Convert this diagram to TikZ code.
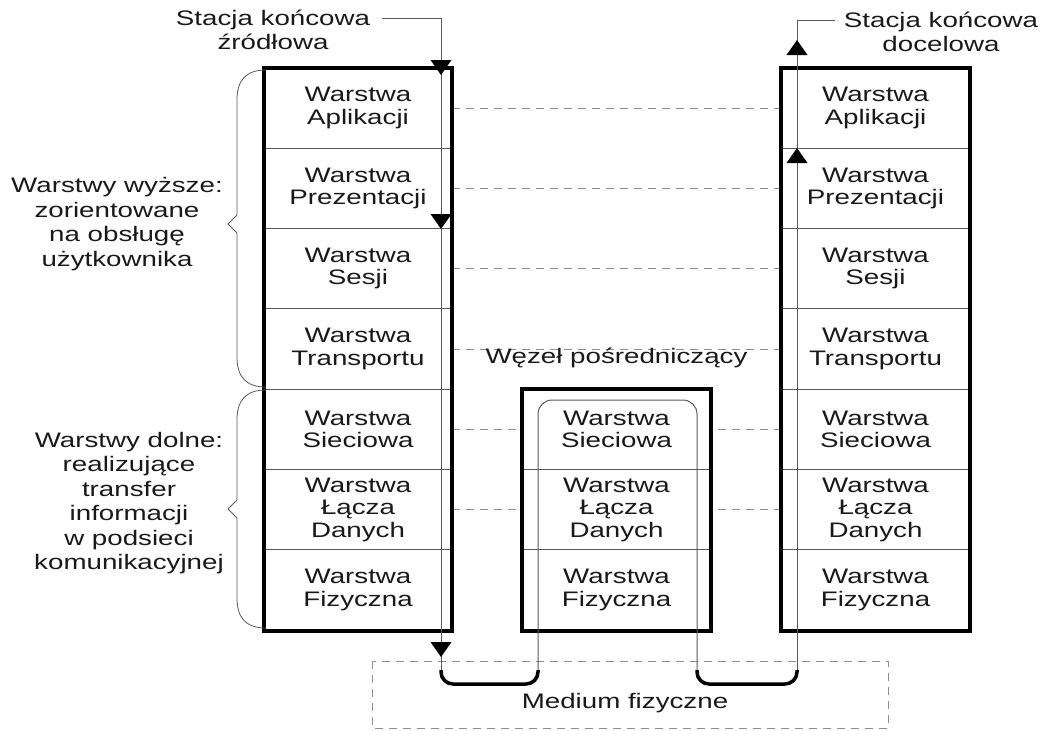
\documentclass[tikz,border=0pt]{standalone}
\usepackage{fontspec}
\setmainfont{Liberation Sans}[FakeStretch=1.32]
\usetikzlibrary{arrows.meta}
\definecolor{thinc}{gray}{0.35}
\definecolor{dashc}{gray}{0.55}
\definecolor{txt}{gray}{0.1}
\newcommand\mydowntri[1]{\fill[black] (#1) -- ++(-10.5,-15) -- ++(21,0) -- cycle;}
\newcommand\myuptri[1]{\fill[black] (#1) -- ++(-10.5,15) -- ++(21,0) -- cycle;}
\begin{document}
\begin{tikzpicture}[x=1pt,y=-1pt,
  layer/.style={draw=thinc, line width=0.9pt, fill=white, minimum width=188pt, minimum height=80.29pt,
    inner sep=0pt, align=center, text=txt, font=\fontsize{21}{22.5}\selectfont},
  frame/.style={draw=black, line width=4pt},
  sig/.style={draw=thinc, line width=1pt},
  peer/.style={draw=dashc, line width=1pt, dash pattern=on 8pt off 6pt},
  medium/.style={draw=dashc, line width=1pt, dash pattern=on 8pt off 6pt},
  cable/.style={draw=black, line width=3.5pt, rounded corners=12pt},
  bracec/.style={draw=thinc, line width=0.8pt},
  lbl/.style={align=center, text=txt, font=\fontsize{21}{24.5}\selectfont, inner sep=0pt}]
\useasboundingbox (0,0) rectangle (1061,731);

% left station
\node[layer] (la) at (358,108.1) {Warstwa\\Aplikacji};
\node[layer] (lp) at (358,188.4) {Warstwa\\Prezentacji};
\node[layer] (ls) at (358,268.7) {Warstwa\\Sesji};
\node[layer] (lt) at (358,349.0) {Warstwa\\Transportu};
\node[layer] (ln) at (358,429.3) {Warstwa\\Sieciowa};
\node[layer] (ld) at (358,509.6) {Warstwa\\Łącza\\Danych};
\node[layer] (lf) at (358,589.9) {Warstwa\\Fizyczna};
% right station
\node[layer] (ra) at (875.5,108.1) {Warstwa\\Aplikacji};
\node[layer] (rp) at (875.5,188.4) {Warstwa\\Prezentacji};
\node[layer] (rs) at (875.5,268.7) {Warstwa\\Sesji};
\node[layer] (rt) at (875.5,349.0) {Warstwa\\Transportu};
\node[layer] (rn) at (875.5,429.3) {Warstwa\\Sieciowa};
\node[layer] (rd) at (875.5,509.6) {Warstwa\\Łącza\\Danych};
\node[layer] (rf) at (875.5,589.9) {Warstwa\\Fizyczna};

% peer dashed lines
\foreach \a/\b in {la/ra,lp/rp,ls/rs,lt/rt,ln/rn,ld/rd}
  \draw[peer] (\a.east) -- (\b.west);

% intermediate node
\node[layer] (mn) at (616.5,429.3) {Warstwa\\Sieciowa};
\node[layer] (md) at (616.5,509.6) {Warstwa\\Łącza\\Danych};
\node[layer] (mf) at (616.5,589.9) {Warstwa\\Fizyczna};
\node[lbl] (wezel) at (616.5,358) {Węzeł pośredniczący};

% frames
\draw[frame] (la.north west) rectangle (lf.south east);
\draw[frame] (ra.north west) rectangle (rf.south east);
\draw[frame] (mn.north west) rectangle (mf.south east);

% medium
\draw[medium] (372,661) rectangle (888,728);
\node[lbl] (med) at (625,703) {Medium fizyczne};

% labels
\node[lbl] (src) at (273,30) {Stacja końcowa\\źródłowa};
\node[lbl] (dst) at (941,32) {Stacja końcowa\\docelowa};
\node[lbl] (up) at (117,224) {Warstwy wyższe:\\zorientowane\\na obsługę\\użytkownika};
\node[lbl] (low) at (129,503) {Warstwy dolne:\\realizujące\\transfer\\informacji\\w podsieci\\komunikacyjnej};

% braces
\draw[bracec] (266,70) .. controls (246,70) and (237,80) .. (237,100) -- (237,215) -- (228,224) -- (237,233)
  -- (237,357) .. controls (237,377) and (246,387) .. (266,387);
\draw[bracec] (266,390) .. controls (246,390) and (237,400) .. (237,420) -- (237,500) -- (228,509) -- (237,518)
  -- (237,598) .. controls (237,618) and (246,628) .. (266,628);

% signal path coordinates
\coordinate (s0) at (382,18);
\coordinate (s1) at (441,18);
\coordinate (s2) at (441,75);
\coordinate (s3) at (441,229);
\coordinate (s4) at (441,657);
\coordinate (s5) at (441,670);
\coordinate (m1) at (538,670);
\coordinate (m2) at (538,400);
\coordinate (m3) at (697,400);
\coordinate (m4) at (697,670);
\coordinate (d5) at (797,670);
\coordinate (d3) at (797,148);
\coordinate (d2) at (797,40);
\coordinate (d1) at (797,20);
\coordinate (d0) at (835,20);

\draw[sig] (s0) -- (s1) -- (s5);
\draw[cable] (s5) -- (441,684) -- (538,684) -- (m1);
\draw[sig, rounded corners=14pt] (m1) -- (m2) -- (m3) -- (m4);
\draw[cable] (m4) -- (697,684) -- (797,684) -- (d5);
\draw[sig] (d5) -- (d1) -- (d0);
\mydowntri{s2}
\mydowntri{s3}
\mydowntri{s4}
\myuptri{d3}
\myuptri{d2}
\end{tikzpicture}
\end{document}
